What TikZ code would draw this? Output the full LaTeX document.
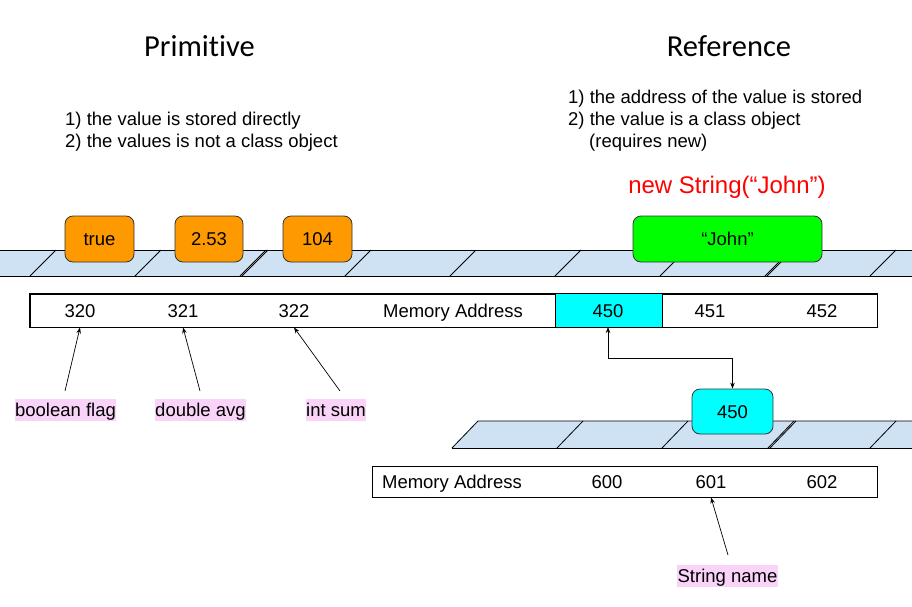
\documentclass[tikz,border=0pt]{standalone}
\usepackage{fontspec}
\setmainfont{Liberation Sans}
\newfontfamily\titlefont[Ligatures=NoCommon]{Carlito}
\usetikzlibrary{arrows.meta}
\definecolor{stripblue}{HTML}{CFE2F3}
\definecolor{valorange}{HTML}{FF9900}
\definecolor{valgreen}{HTML}{00FF00}
\definecolor{valcyan}{HTML}{00FFFF}
\definecolor{lblpink}{HTML}{F9D4F8}
\begin{document}
\begin{tikzpicture}[x=1pt,y=-1pt,
  body/.style={font=\fontsize{18.5}{22}\selectfont, inner sep=0pt},
  ttl/.style={font=\titlefont\fontsize{30.5}{36}\selectfont, inner sep=0pt},
  valbox/.style={draw=black!80, rounded corners=8pt, line width=0.8pt, minimum height=46pt, inner sep=0pt, text height=13.3pt, text depth=0pt, font=\fontsize{18.5}{22}\selectfont},
  lbl/.style={fill=lblpink, inner sep=0pt, minimum height=22pt, text height=13.3pt, text depth=0pt, font=\fontsize{18.5}{22}\selectfont},
  celltxt/.style={font=\fontsize{18.5}{22}\selectfont, inner sep=0pt, anchor=base},
  addrbox/.style={draw=black, line width=0.9pt, inner sep=0pt},
  arr/.style={-{Stealth[length=6pt,width=4.5pt]}, line width=0.7pt},
  sep/.style={line width=0.8pt},
]
\useasboundingbox (0,0) rectangle (912,606);

% titles
\node[ttl, anchor=base] (tprim) at (199.5,56) {Primitive};
\node[ttl, anchor=base] (tref) at (729,56) {Reference};

% description texts
\node[body, anchor=base west] (p1) at (65,125.5) {1) the value is stored directly};
\node[body, anchor=base west] (p2) at (65,147.5) {2) the values is not a class object};
\node[body, anchor=base west] (r1) at (568,103.5) {1) the address of the value is stored};
\node[body, anchor=base west] (r2) at (568,125.5) {2) the value is a class object};
\node[body, anchor=base west] (r3) at (589,147.5) {(requires new)};
\node[anchor=base, inner sep=0pt, text=red, font=\fontsize{24}{28}\selectfont] (newstr) at (727,193) {new String(“John”)};

% top strip
\fill[stripblue] (0,250) rectangle (912,276);
\draw[sep] (0,250) -- (912,250);
\draw[sep] (0,276) -- (912,276);
\foreach \b in {30,135,240,345,450,555,660,765,870}{
  \draw[sep] (\b,276) -- (\b+26,250);
}
\foreach \b in {242,767}{
  \draw[sep] (\b,276) -- (\b+26,250);
}

% value boxes
\node[valbox, fill=valorange, minimum width=69pt] (vtrue) at (99.5,239) {true};
\node[valbox, fill=valorange, minimum width=68pt] (vavg) at (209,239) {2.53};
\node[valbox, fill=valorange, minimum width=69pt] (vsum) at (317.5,239) {104};
\node[valbox, fill=valgreen, minimum width=189pt] (vjohn) at (727.5,239) {“John”};

% first address row
\node[addrbox, minimum width=847pt, minimum height=33pt] (addr1) at (453.5,310.5) {};
\fill[valcyan] (555,294) rectangle (662,327);
\draw[line width=0.9pt] (555,294) -- (555,327) (662,294) -- (662,327);
\draw[addrbox] (addr1.north west) rectangle (addr1.south east);
\node[celltxt] (a320) at (80,317.5) {320};
\node[celltxt] (a321) at (183,317.5) {321};
\node[celltxt] (a322) at (294,317.5) {322};
\node[celltxt] (ama) at (453,317.5) {Memory Address};
\node[celltxt] (a450) at (608,317.5) {450};
\node[celltxt] (a451) at (710,317.5) {451};
\node[celltxt] (a452) at (822,317.5) {452};
\coordinate (c450) at (608,327);

% primitive labels
\node[lbl, minimum width=101pt] (lflag) at (65.5,410) {boolean flag};
\node[lbl, minimum width=91pt] (lavg) at (200.5,410) {double avg};
\node[lbl, minimum width=60pt] (lsum) at (336,410) {int sum};
\coordinate (sflag) at (65,391);
\coordinate (savg) at (200,391);
\coordinate (ssum) at (340,391);
\draw[arr] (sflag) -- (a320 |- addr1.south);
\draw[arr] (savg) -- (a321 |- addr1.south);
\draw[arr] (ssum) -- (a322 |- addr1.south);

% second strip
\fill[stripblue] (452,448) -- (478,421) -- (912,421) -- (912,448) -- cycle;
\draw[sep] (452,448) -- (478,421) -- (912,421);
\draw[sep] (452,448) -- (912,448);
\foreach \b in {557,662,768,870}{
  \draw[sep] (\b,448) -- (\b+26,421);
}
\draw[sep] (770,448) -- (796,421);

% reference box 450
\node[valbox, fill=valcyan, minimum width=81pt, minimum height=45pt] (v450) at (732.5,411.5) {450};

% connector between address 450 and ref box
\draw[{Stealth[length=6pt,width=4.5pt]}-{Stealth[length=6pt,width=4.5pt]}, line width=0.7pt]
  (c450) -- (608,358) -| (v450.north);

% second address row
\node[addrbox, draw, minimum width=505pt, minimum height=31pt] (addr2) at (624.5,481.5) {};
\node[celltxt] (bma) at (452,488.5) {Memory Address};
\node[celltxt] (b600) at (607,488.5) {600};
\node[celltxt] (b601) at (711,488.5) {601};
\node[celltxt] (b602) at (822,488.5) {602};

% string name label
\node[lbl, minimum width=101pt] (lname) at (727.5,576) {String name};
\coordinate (sname) at (728,555);
\draw[arr] (sname) -- (b601 |- addr2.south);
\end{tikzpicture}
\end{document}
